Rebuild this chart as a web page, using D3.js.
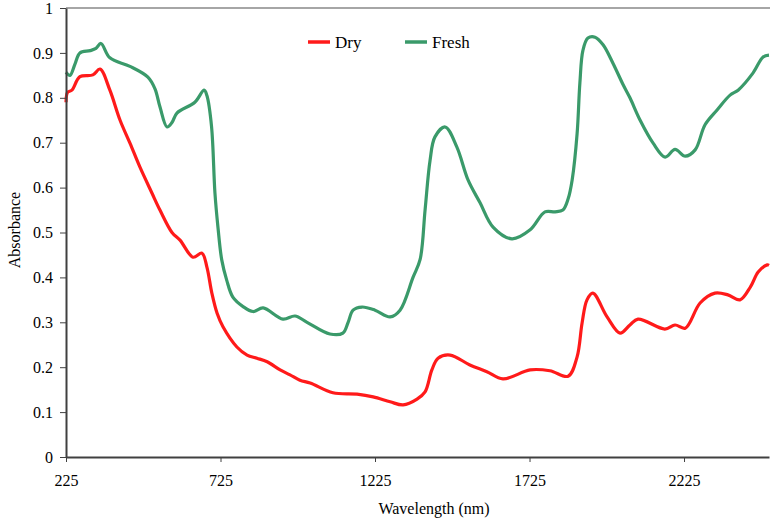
<!DOCTYPE html>
<html>
<head>
<meta charset="utf-8">
<script src="https://cdn.jsdelivr.net/npm/d3@7"></script>
<style>
  body { margin: 0; background: #fff; }
  svg text { font-family: "Times New Roman", "Liberation Serif", "DejaVu Serif", serif !important; }
</style>
</head>
<body>
<svg id="chart" width="770" height="526"></svg>
<script>
// wavelengths (nm) and absorbance
const dryWavelength = [225, 230, 244, 270, 312, 335, 367, 400, 432, 464, 503, 529, 568, 594, 636, 665, 681, 697, 714, 733, 778, 811, 843, 876, 918, 950, 982, 1015, 1089, 1167, 1219, 1274, 1316, 1361, 1387, 1409, 1429, 1468, 1532, 1587, 1639, 1727, 1791, 1850, 1879, 1895, 1911, 1930, 1976, 2018, 2050, 2076, 2163, 2196, 2229, 2277, 2325, 2367, 2406, 2440, 2465, 2494, 2500];
const dryValues = [0.79, 0.812, 0.817, 0.847, 0.851, 0.864, 0.817, 0.75, 0.699, 0.646, 0.588, 0.55, 0.50, 0.483, 0.445, 0.454, 0.423, 0.365, 0.32, 0.29, 0.245, 0.227, 0.22, 0.212, 0.194, 0.183, 0.171, 0.165, 0.143, 0.14, 0.134, 0.123, 0.116, 0.129, 0.145, 0.194, 0.22, 0.227, 0.205, 0.19, 0.174, 0.194, 0.192, 0.18, 0.223, 0.298, 0.35, 0.365, 0.312, 0.276, 0.294, 0.307, 0.285, 0.294, 0.287, 0.343, 0.365, 0.361, 0.35, 0.379, 0.412, 0.428, 0.427];

const freshWavelength = [225, 238, 254, 270, 303, 322, 338, 367, 432, 490, 513, 529, 552, 568, 584, 642, 672, 681, 696, 707, 717, 729, 745, 765, 798, 830, 863, 927, 966, 1005, 1079, 1121, 1138, 1154, 1183, 1225, 1274, 1306, 1348, 1371, 1387, 1403, 1419, 1452, 1490, 1526, 1565, 1607, 1668, 1727, 1775, 1808, 1833, 1850, 1863, 1879, 1888, 1898, 1914, 1937, 1963, 1995, 2028, 2050, 2083, 2125, 2164, 2196, 2229, 2261, 2293, 2332, 2374, 2400, 2448, 2481, 2500];
const freshValues = [0.857, 0.85, 0.875, 0.90, 0.905, 0.91, 0.921, 0.889, 0.87, 0.846, 0.82, 0.78, 0.735, 0.745, 0.766, 0.79, 0.817, 0.805, 0.736, 0.588, 0.51, 0.439, 0.394, 0.356, 0.335, 0.324, 0.332, 0.307, 0.314, 0.30, 0.274, 0.276, 0.30, 0.327, 0.334, 0.327, 0.312, 0.327, 0.40, 0.44, 0.55, 0.66, 0.713, 0.735, 0.69, 0.617, 0.566, 0.512, 0.486, 0.506, 0.546, 0.546, 0.55, 0.575, 0.617, 0.72, 0.833, 0.906, 0.933, 0.935, 0.918, 0.877, 0.829, 0.80, 0.75, 0.699, 0.668, 0.685, 0.67, 0.684, 0.74, 0.773, 0.806, 0.817, 0.855, 0.891, 0.895];

const xTicks = [225, 725, 1225, 1725, 2225];
const yTicks = [0, 0.1, 0.2, 0.3, 0.4, 0.5, 0.6, 0.7, 0.8, 0.9, 1];

const series = [
  { name: "Dry", x: dryWavelength, y: dryValues, color: "#ff1a1a" },
  { name: "Fresh", x: freshWavelength, y: freshValues, color: "#3a9a6a" }
];

const margin = { top: 8, right: 1, bottom: 69, left: 66 };
const width = 770 - margin.left - margin.right;
const height = 526 - margin.top - margin.bottom;

const svg = d3.select("#chart");
const g = svg.append("g").attr("transform", "translate(" + margin.left + "," + margin.top + ")");

const x = d3.scaleLinear().domain([225, 2500]).range([0, width]);
const y = d3.scaleLinear().domain([0, 1]).range([height, 0]);

// top frame line
g.append("line")
  .attr("x1", 0).attr("x2", width + 2)
  .attr("y1", 0).attr("y2", 0)
  .attr("stroke", "#a6a6a6").attr("stroke-width", 2);

const line = d3.line()
  .x(d => x(d[0]))
  .y(d => y(d[1]))
  .curve(d3.curveCatmullRom.alpha(0.5));

series.forEach(s => {
  g.append("path")
    .datum(s.x.map((v, i) => [v, s.y[i]]))
    .attr("fill", "none")
    .attr("stroke", s.color)
    .attr("stroke-width", 3.2)
    .attr("stroke-linejoin", "round")
    .attr("d", line);
});

const yAxis = g.append("g")
  .call(d3.axisLeft(y).tickValues(yTicks).tickFormat(d => d === 0 || d === 1 ? d3.format("d")(d) : d3.format(".1f")(d)).tickSize(6).tickSizeOuter(0).tickPadding(7));
yAxis.select(".domain").attr("stroke", "#404040").attr("stroke-width", 2);
yAxis.selectAll(".tick line").attr("stroke", "#404040");
yAxis.selectAll("text").attr("font-size", "16px").attr("fill", "#000");

const xAxis = g.append("g")
  .attr("transform", "translate(0," + height + ")")
  .call(d3.axisBottom(x).tickValues(xTicks).tickFormat(d3.format("d")).tickSize(5).tickSizeOuter(0).tickPadding(13));
xAxis.select(".domain").attr("stroke", "#404040").attr("stroke-width", 2);
xAxis.selectAll(".tick line").attr("stroke", "#404040");
xAxis.selectAll("text").attr("font-size", "16px").attr("fill", "#000");

// axis titles
svg.append("text")
  .attr("x", 434).attr("y", 514)
  .attr("text-anchor", "middle")
  .attr("font-size", "16px")
  .text("Wavelength (nm)");

svg.append("text")
  .attr("transform", "translate(20,230) rotate(-90)")
  .attr("text-anchor", "middle")
  .attr("font-size", "16px")
  .text("Absorbance");

// legend
const legend = svg.append("g");
const legendX = [308, 405];
series.forEach((s, i) => {
  legend.append("line")
    .attr("x1", legendX[i]).attr("x2", legendX[i] + 22)
    .attr("y1", 42).attr("y2", 42)
    .attr("stroke", s.color).attr("stroke-width", 3.5);
  legend.append("text")
    .attr("x", legendX[i] + 27).attr("y", 48)
    .attr("font-size", "17px")
    .text(s.name);
});
</script>
</body>
</html>
